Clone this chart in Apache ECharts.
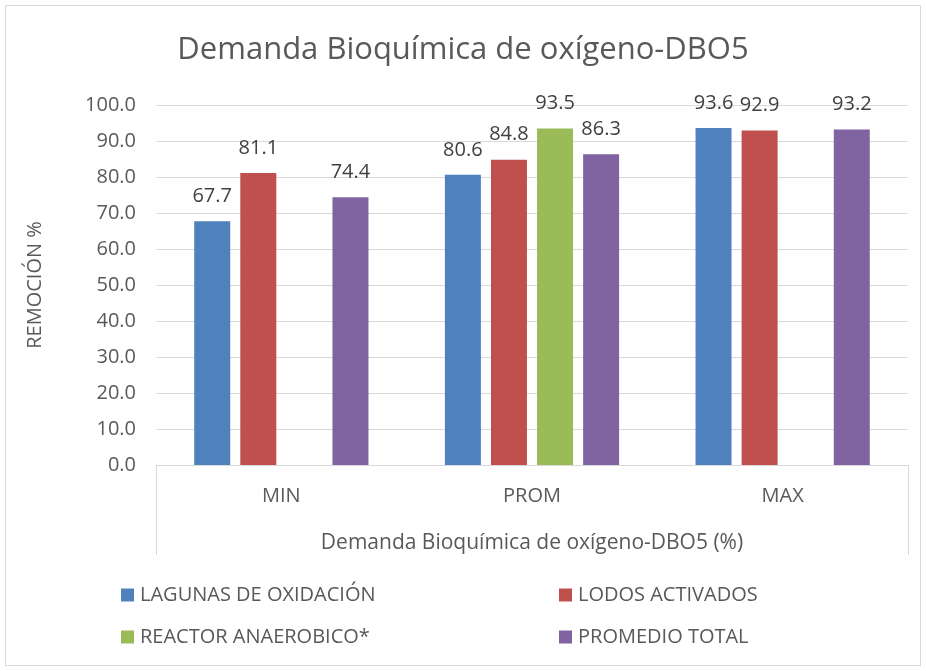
<!DOCTYPE html>
<html>
<head>
<meta charset="utf-8">
<script src="https://cdn.jsdelivr.net/npm/echarts@6/dist/echarts.min.js"></script>
<style>
  html, body { margin: 0; padding: 0; background: #fff; }
  #frame { position: absolute; left: 5px; top: 5px; width: 914px; height: 659px; border: 1px solid #d9d9d9; }
  #chart { position: absolute; left: 0; top: 0; width: 926px; height: 671px; }
</style>
</head>
<body>
<div id="frame"></div>
<div id="chart"></div>
<script>
const categories = ['MIN', 'PROM', 'MAX'];
const lagunas = [67.7, 80.6, 93.6];
const lodos = [81.1, 84.8, 92.9];
const reactor = [null, 93.5, null];
const promedio = [74.4, 86.3, 93.2];
const seriesNames = ['LAGUNAS DE OXIDACIÓN', 'LODOS ACTIVADOS', 'REACTOR ANAEROBICO*', 'PROMEDIO TOTAL'];
const colors = ['#4F81BD', '#C0504D', '#9BBB59', '#8064A2'];

const font = '"Open Sans", Lato, sans-serif';
const textColor = '#595959';

function bar(name, data, color) {
  return {
    name: name,
    type: 'bar',
    data: data,
    barWidth: 36,
    barGap: '28%',
    itemStyle: { color: color },
    label: {
      show: true,
      position: 'top',
      distance: 15,
      color: '#404040',
      fontSize: 20,
      fontFamily: font,
      formatter: p => p.value == null ? '' : Number(p.value).toFixed(1)
    }
  };
}

const legendCommon = {
  orient: 'vertical', top: 580, itemGap: 22,
  itemWidth: 13, itemHeight: 13, icon: 'rect', itemStyle: { borderWidth: 0 },
  textStyle: { fontFamily: font, fontSize: 20, color: textColor, padding: [0, 0, 0, 1] }
};

const chart = echarts.init(document.getElementById('chart'));
chart.setOption({
  animation: false,
  backgroundColor: 'transparent',
  title: {
    text: 'Demanda Bioquímica de oxígeno-DBO5',
    left: 'center',
    top: 30,
    textStyle: { fontFamily: font, fontWeight: 'normal', fontSize: 31, color: textColor }
  },
  grid: { left: 156, right: 18, top: 105, bottom: 206, containLabel: false },
  legend: [
    Object.assign({ data: [seriesNames[0], seriesNames[2]], left: 116 }, legendCommon),
    Object.assign({ data: [seriesNames[1], seriesNames[3]], left: 554 }, legendCommon)
  ],
  xAxis: [
    {
      type: 'category',
      data: categories,
      position: 'bottom',
      axisLine: { show: true, lineStyle: { color: '#d9d9d9' } },
      axisTick: { show: false },
      axisLabel: { margin: 21, fontFamily: font, fontSize: 20, color: textColor }
    },
    {
      type: 'category',
      data: ['Demanda Bioquímica de oxígeno-DBO5 (%)'],
      position: 'bottom',
      axisLine: { show: true, lineStyle: { color: '#d9d9d9' } },
      axisTick: { show: true, length: 90, lineStyle: { color: '#d9d9d9' } },
      axisLabel: { margin: 68, fontFamily: font, fontSize: 21, color: textColor }
    }
  ],
  yAxis: {
    type: 'value',
    min: 0, max: 100, interval: 10,
    name: 'REMOCIÓN %',
    nameLocation: 'middle',
    nameGap: 111,
    nameTextStyle: { fontFamily: font, fontSize: 20, color: textColor },
    axisLine: { show: false },
    axisTick: { show: false },
    splitLine: { lineStyle: { color: '#d9d9d9' } },
    axisLabel: { margin: 20, fontFamily: font, fontSize: 20, color: textColor, formatter: v => v.toFixed(1) }
  },
  series: [
    bar(seriesNames[0], lagunas, colors[0]),
    bar(seriesNames[1], lodos, colors[1]),
    bar(seriesNames[2], reactor, colors[2]),
    bar(seriesNames[3], promedio, colors[3])
  ]
});
</script>
</body>
</html>
